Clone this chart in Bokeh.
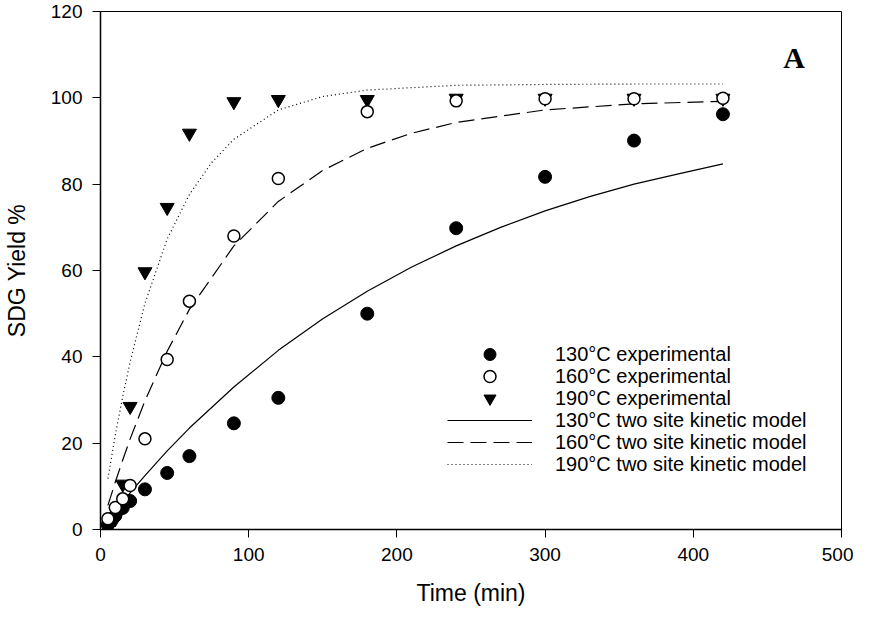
from bokeh.plotting import figure
from bokeh.models import Range1d, FixedTicker, Legend, LegendItem, Label
from bokeh.embed import file_html
from bokeh.resources import INLINE

# Experimental data (time in min, SDG yield %)
t_exp = [5, 10, 15, 20, 30, 45, 60, 90, 120, 180, 240, 300, 360, 420]
y130_exp = [1.2, 3.2, 5.0, 6.6, 9.3, 13.1, 17.0, 24.6, 30.5, 50.0, 69.8, 81.7, 90.1, 96.2]
y160_exp = [2.5, 5.1, 7.1, 10.2, 21.0, 39.4, 52.9, 68.0, 81.3, 96.8, 99.3, 99.8, 99.8, 99.9]
y190_exp = [0.0, 2.5, 10.5, 28.5, 59.7, 74.6, 91.8, 99.1, 99.6, 99.6, 99.9, 99.9, 99.9, 99.9]

# Two site kinetic model curves
t130_mod = [5, 10, 20, 30, 45, 60, 90, 120, 150, 180, 210, 240, 270, 300, 330, 360, 390, 420]
y130_mod = [2.2, 4.4, 8.5, 12.5, 18.2, 23.5, 33.0, 41.5, 48.8, 55.2, 60.8, 65.7, 70.0, 73.8, 77.1, 80.0, 82.4, 84.7]
t160_mod = [5, 10, 15, 20, 30, 45, 60, 90, 120, 150, 180, 210, 240, 300, 360, 420]
y160_mod = [5.6, 11.0, 16.1, 21.0, 29.8, 41.3, 51.0, 65.7, 76.0, 83.2, 88.3, 91.8, 94.3, 97.2, 98.6, 99.2]
t190_mod = [5, 10, 15, 20, 30, 45, 60, 75, 90, 120, 150, 180, 240, 300, 360, 420]
y190_mod = [11.8, 21.9, 30.8, 38.8, 52.4, 67.3, 77.6, 85.0, 90.4, 97.2, 100.3, 101.8, 102.9, 103.1, 103.2, 103.2]

x_ticks = [0, 100, 200, 300, 400, 500]
y_ticks = [0, 20, 40, 60, 80, 100, 120]

legend_labels = ["130°C experimental", "160°C experimental", "190°C experimental",
                 "130°C two site kinetic model", "160°C two site kinetic model",
                 "190°C two site kinetic model"]

p = figure(width=853, height=612, output_backend="svg", toolbar_location=None,
           x_range=Range1d(0, 500), y_range=Range1d(0, 120),
           min_border_left=100, min_border_right=12, min_border_top=11, min_border_bottom=83)
p.xgrid.visible = False
p.ygrid.visible = False
p.background_fill_color = "white"
p.border_fill_color = "white"
p.outline_line_color = "black"
p.outline_line_width = 1

for ax, ticks in ((p.xaxis[0], x_ticks), (p.yaxis[0], y_ticks)):
    ax.ticker = FixedTicker(ticks=ticks)
    ax.minor_tick_line_color = None
    ax.major_tick_in = 0
    ax.major_tick_out = 8
    ax.major_tick_line_color = "black"
    ax.major_tick_line_width = 1
    ax.axis_line_color = "black"
    ax.axis_line_width = 1.5
    ax.major_label_text_font = "Liberation Sans"
    ax.major_label_text_font_size = "19px"
    ax.major_label_text_color = "black"
    ax.major_label_standoff = 10
    ax.axis_label_text_font = "Liberation Sans"
    ax.axis_label_text_font_size = "23px"
    ax.axis_label_text_font_style = "normal"
    ax.axis_label_text_color = "black"

p.xaxis.axis_label = "Time (min)"
p.yaxis.axis_label = "SDG Yield %"
p.xaxis.axis_label_standoff = 16
p.yaxis.axis_label_standoff = 18

l130 = p.line(t130_mod, y130_mod, line_color="black", line_width=1.2)
l160 = p.line(t160_mod, y160_mod, line_color="black", line_width=1.2, line_dash="16 7")
l190 = p.line(t190_mod, y190_mod, line_color="black", line_width=1.2, line_dash="1 3")

s130 = p.scatter(t_exp, y130_exp, marker="circle", size=13, fill_color="black", line_color="black")
s190 = p.scatter(t_exp, y190_exp, marker="inverted_triangle", size=14, fill_color="black", line_color="black")
s160 = p.scatter(t_exp, y160_exp, marker="circle", size=12, fill_color="white", line_color="black", line_width=1.5)

# one legend per row so that the row pitch and the marker size can both be set
renderers = [s130, s160, s190, l130, l160, l190]
row_pitch = 22
glyph_h = 30
first_row_center = 175  # px above the bottom of the plot frame
for i, (lab, r) in enumerate(zip(legend_labels, renderers)):
    lg = Legend(items=[LegendItem(label=lab, renderers=[r])],
                location=(347, first_row_center - i * row_pitch - glyph_h // 2))
    lg.border_line_color = None
    lg.background_fill_alpha = 0
    lg.padding = 0
    lg.margin = 0
    lg.spacing = 0
    lg.glyph_width = 85
    lg.glyph_height = glyph_h
    lg.label_height = 20
    lg.label_standoff = 23
    lg.label_text_font = "Liberation Sans"
    lg.label_text_font_size = "20px"
    lg.label_text_color = "black"
    p.add_layout(lg)

p.add_layout(Label(x=468, y=109.4, text="A", text_align="center", text_baseline="middle",
                   text_font="Liberation Serif", text_font_style="bold", text_font_size="30px",
                   text_color="black"))

open("out.html", "w").write(file_html(p, INLINE))
